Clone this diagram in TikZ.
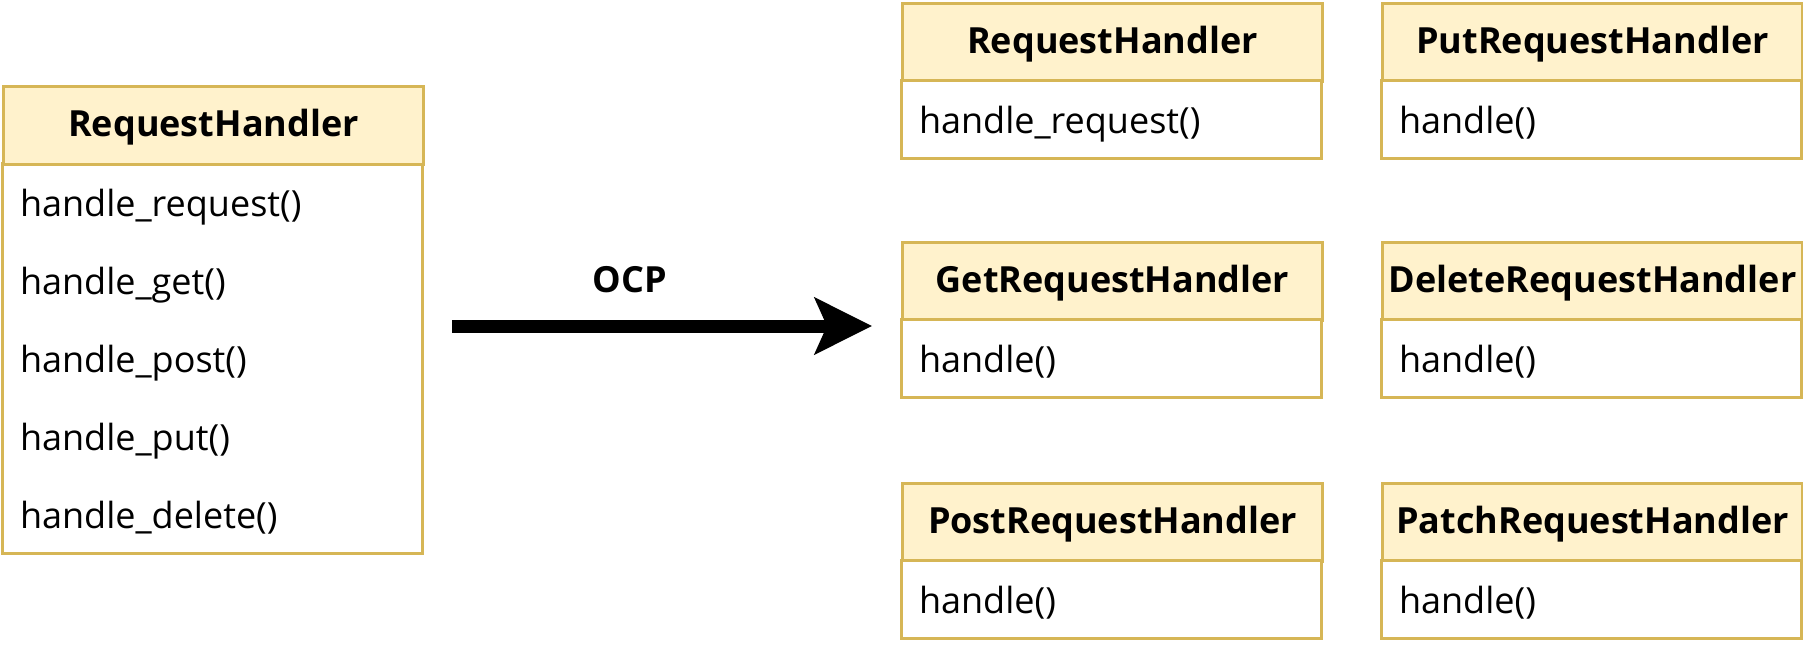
\documentclass[tikz,border=0pt]{standalone}
\usepackage{fontspec}
\setmainfont{Open Sans}
\usetikzlibrary{arrows.meta}
\definecolor{hdrfill}{HTML}{FFF2CC}
\definecolor{hdrline}{HTML}{D6B656}
\begin{document}
\begin{tikzpicture}[x=1pt,y=-1pt,
  hdr/.style={draw=hdrline, fill=hdrfill, line width=3pt, minimum width=420pt,
    minimum height=78pt, inner sep=0pt, anchor=north west,
    text height=26pt, text depth=4pt,
    font=\fontsize{36}{43}\selectfont\bfseries},
  rowtext/.style={text width=384pt, line width=3pt, outer sep=0pt,
    inner xsep=18pt, inner ysep=0pt, minimum height=78pt, align=left,
    text height=30pt, text depth=2pt,
    anchor=north west, font=\fontsize{36}{43}\selectfont},
  row/.style={rowtext, draw=hdrline, fill=white},
  bigarrow/.style={line width=13pt, -{Stealth[length=57pt,width=56pt,inset=12pt]}}]
\useasboundingbox (0,0) rectangle (1803,648);
% left class
\node[rowtext] (L1) at (2,163) {handle\_request()};
\node[rowtext] (L2) at (2,241) {handle\_get()};
\node[rowtext] (L3) at (2,319) {handle\_post()};
\node[rowtext] (L4) at (2,397) {handle\_put()};
\node[rowtext] (L5) at (2,475) {handle\_delete()};
\draw[draw=hdrline, line width=3pt] (L1.north west) rectangle (L5.south east);
\node[hdr] (L) at (2,85) {RequestHandler};
% arrow
\coordinate (ocpS) at (452,326);
\coordinate (ocpE) at (872,326);
\draw[bigarrow] (ocpS) -- (ocpE);
\node[font=\fontsize{36}{43}\selectfont\bfseries] (ocp) at (630,280) {OCP};
% right classes
\node[hdr] (R1) at (901,2) {RequestHandler};
\node[row] (R1b) at (901,80) {handle\_request()};
\node[hdr] (R2) at (1381,2) {PutRequestHandler};
\node[row] (R2b) at (1381,80) {handle()};
\node[hdr] (R3) at (901,241) {GetRequestHandler};
\node[row] (R3b) at (901,319) {handle()};
\node[hdr] (R4) at (1381,241) {DeleteRequestHandler};
\node[row] (R4b) at (1381,319) {handle()};
\node[hdr] (R5) at (901,482) {PostRequestHandler};
\node[row] (R5b) at (901,560) {handle()};
\node[hdr] (R6) at (1381,482) {PatchRequestHandler};
\node[row] (R6b) at (1381,560) {handle()};
\end{tikzpicture}
\end{document}
